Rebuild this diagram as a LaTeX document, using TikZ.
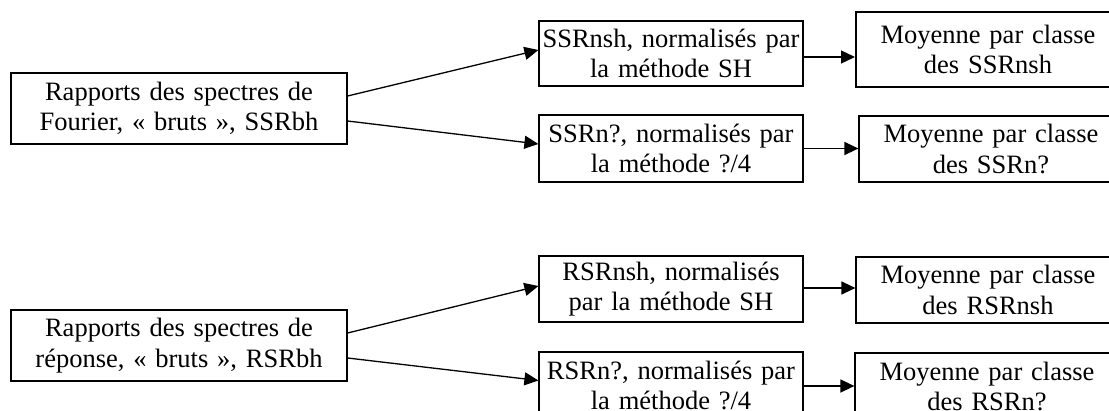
\documentclass[tikz,border=0pt]{standalone}
\usepackage{fontspec}
\setmainfont{Liberation Serif}
\usetikzlibrary{arrows.meta}
\begin{document}
\begin{tikzpicture}[x=1pt,y=1pt,
  box/.style={draw,line width=1.2pt,inner sep=0pt,align=center,
    font=\fontsize{26.5}{30.5}\selectfont},
  midbox/.style={box,text width=264pt},
  avgbox/.style={box,text width=264pt},
  arr/.style={line width=1.3pt,-{Triangle[length=14pt,width=13pt]}}]
\useasboundingbox (0,0) rectangle (1109,-411);
\clip (0,0) rectangle (1109,-411);
% left boxes
\node[box,text width=336pt,minimum height=71pt] (L1) at (179,-108.5)
  {Rapports des spectres de\\Fourier, « bruts », SSRbh};
\node[box,text width=336pt,minimum height=71pt] (L2) at (179,-345.5)
  {Rapports des spectres de\\réponse, « bruts », RSRbh};
% middle boxes
\node[midbox,minimum height=65pt] (M1) at (671,-53.5)
  {SSRnsh, normalisés par\\la méthode SH};
\node[midbox,minimum height=67pt] (M2) at (671,-148.5)
  {SSRn?, normalisés par\\la méthode ?/4};
\node[midbox,minimum height=66pt] (M3) at (671,-289)
  {RSRnsh, normalisés\\par la méthode SH};
\node[midbox,minimum height=67pt] (M4) at (671,-385.5)
  {RSRn?, normalisés par\\la méthode ?/4};
% average boxes
\node[avgbox,line width=2pt,minimum height=75pt] (Y1) at (988,-49.5)
  {Moyenne par classe\\des SSRnsh};
\node[avgbox,minimum height=66pt] (Y2) at (991,-149)
  {Moyenne par classe\\des SSRn?};
\node[avgbox,minimum height=66pt] (Y3) at (988,-290)
  {Moyenne par classe\\des RSRnsh};
\node[avgbox,minimum height=67pt] (Y4) at (987,-386.5)
  {Moyenne par classe\\des RSRn?};
% connectors
\draw[arr] ([yshift=12.5pt]L1.east) -- ([yshift=3.5pt]M1.west);
\draw[arr] ([yshift=-12.5pt]L1.east) -- ([yshift=4.5pt]M2.west);
\draw[arr] ([yshift=12.5pt]L2.east) -- ([yshift=3pt]M3.west);
\draw[arr] ([yshift=-12.5pt]L2.east) -- ([yshift=5pt]M4.west);
\draw[arr] ([yshift=-3.5pt]M1.east) -- ([yshift=-3.5pt]M1.east -| Y1.west);
\draw[arr] (M2.east) -- (M2.east -| Y2.west);
\draw[arr] ([yshift=1pt]M3.east) -- ([yshift=1pt]M3.east -| Y3.west);
\draw[arr] ([yshift=-0.5pt]M4.east) -- ([yshift=-0.5pt]M4.east -| Y4.west);
\end{tikzpicture}
\end{document}
